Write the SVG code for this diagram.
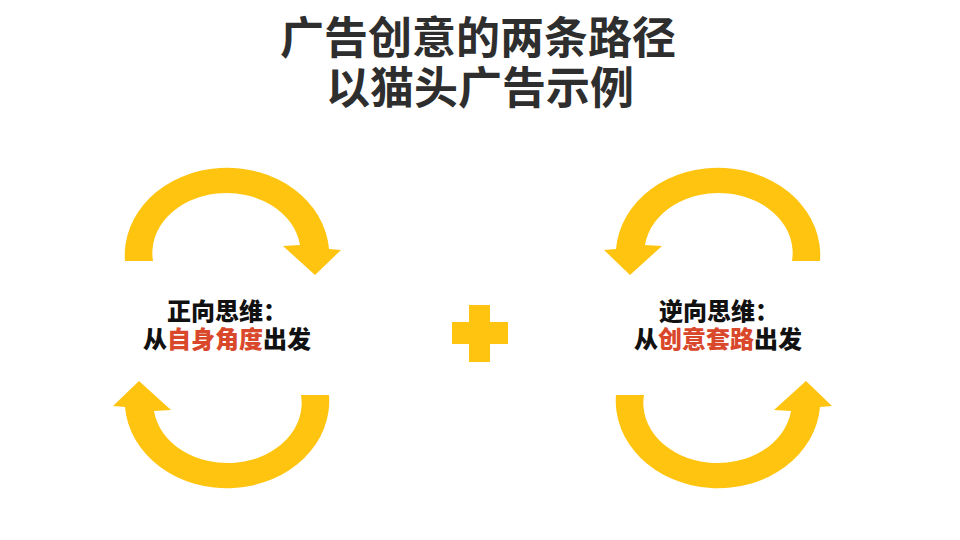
<svg xmlns="http://www.w3.org/2000/svg" xmlns:xlink="http://www.w3.org/1999/xlink" width="960" height="540" viewBox="0 0 960 540">
  <style>
    .title { font-family: "Noto Sans CJK SC", "Noto Sans", sans-serif; font-size: 44px; font-weight: 700; fill: #2e2e2e; text-anchor: middle; }
    .lbl { font-family: "Noto Sans CJK SC", "Noto Sans", sans-serif; font-size: 24px; font-weight: 900; fill: #111111; text-anchor: middle; }
    .hl { fill: #D9482B; }
    .arrow { fill: #FFC40F; }
  </style>
  <defs>
    <path id="arc" class="arrow" d="M 125,261 A 102 87 0 0 1 329,249 L 341,250 L 315,275 L 283,246 L 300,245 A 74 60 0 0 0 153,261 Z"/>
  </defs>
  <rect width="960" height="540" fill="#ffffff"/>

  <g id="title">
    <text class="title" x="478" y="54">广告创意的两条路径</text>
    <text class="title" x="480" y="104">以猫头广告示例</text>
  </g>

  <g id="connectors">
    <g id="left-top-arrow"><use xlink:href="#arc"/></g>
    <g id="left-bottom-arrow"><use xlink:href="#arc" transform="rotate(180 227 328)"/></g>
    <g id="right-top-arrow"><use xlink:href="#arc" transform="translate(945 0) scale(-1 1)"/></g>
    <g id="right-bottom-arrow"><use xlink:href="#arc" transform="translate(945 0) scale(-1 1) rotate(180 227 328)"/></g>
  </g>

  <g id="left-node">
    <text class="lbl" x="227" y="320">正向思维：</text>
    <text class="lbl" x="227" y="348">从<tspan class="hl">自身角度</tspan>出发</text>
  </g>

  <g id="plus">
    <rect class="arrow" x="469" y="305" width="21" height="57"/>
    <rect class="arrow" x="452" y="322" width="56" height="22"/>
  </g>

  <g id="right-node">
    <text class="lbl" x="719" y="320">逆向思维：</text>
    <text class="lbl" x="718" y="348">从<tspan class="hl">创意套路</tspan>出发</text>
  </g>
</svg>
